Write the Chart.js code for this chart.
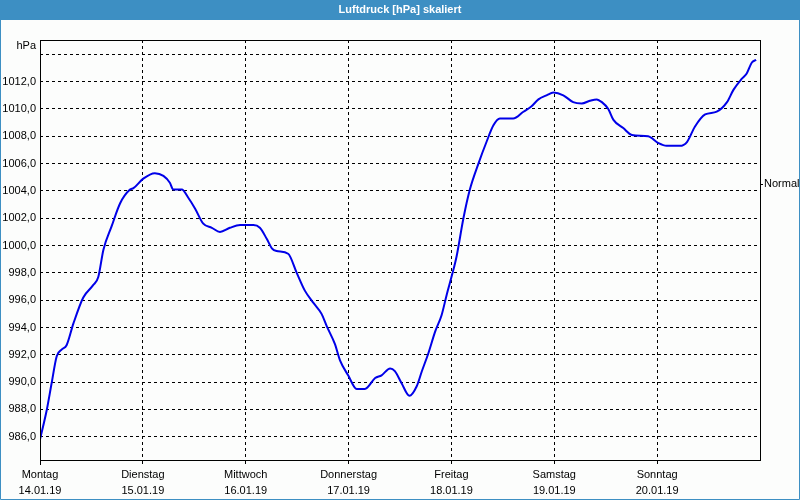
<!DOCTYPE html>
<html>
<head>
<meta charset="utf-8">
<script src="https://cdn.jsdelivr.net/npm/chart.js@4/dist/chart.umd.min.js"></script>
<style>
html,body{margin:0;padding:0;background:#fcfdfc;}
canvas{display:block;}
</style>
</head>
<body>
<canvas id="c" width="800" height="500"></canvas>
<script>
const chartTitle = 'Luftdruck [hPa] skaliert';
const unitLabel = 'hPa';
const days = ['Montag','Dienstag','Mittwoch','Donnerstag','Freitag','Samstag','Sonntag'];
const dates = ['14.01.19','15.01.19','16.01.19','17.01.19','18.01.19','19.01.19','20.01.19'];
const dayTickHours = [0,24,48,72,96,120,144];
const yTickValues = [986,988,990,992,994,996,998,1000,1002,1004,1006,1008,1010,1012,1014];
const normalLevel = 1004.5;
const normalLabel = 'Normal';

// hours since Monday 00:00
const hours = [0,1.6,2.7,3.9,5.1,6.2,7.8,10.1,12.4,13.6,14.8,16.7,18.7,21.0,21.8,24.1,26.8,28.8,30.3,31.1,33.1,34.6,36.2,38.1,40.1,42.0,44.3,46.7,49.8,51.3,52.9,54.1,55.2,57.9,59.9,61.8,63.8,65.7,66.9,68.8,70.0,71.9,73.9,75.8,78.2,79.7,81.7,82.8,84.4,86.2,87.9,89.1,90.6,92.2,93.7,94.9,96.1,97.2,98.8,100.3,102.3,104.2,105.8,107.3,110.4,112.8,114.7,116.3,118.2,119.8,122.1,124.4,126.4,128.3,129.9,131.1,132.6,133.8,136.1,138.1,141.9,144.3,146.2,149.3,151.0,152.8,155.2,157.9,160.3,161.8,163.7,164.9,166.1,167.1];
const pressure = [985.8,988.0,989.9,991.9,992.4,992.7,994.3,996.2,997.1,997.7,999.7,1001.4,1003.1,1004.1,1004.2,1004.9,1005.3,1005.1,1004.6,1004.1,1004.1,1003.5,1002.7,1001.6,1001.3,1001.0,1001.3,1001.5,1001.5,1001.3,1000.5,999.8,999.6,999.4,998.0,996.7,995.8,995.0,994.1,992.8,991.6,990.5,989.5,989.5,990.3,990.5,991.0,990.8,989.9,989.0,989.7,990.8,992.1,993.7,994.9,996.4,997.8,999.2,1002.0,1004.1,1006.0,1007.6,1008.8,1009.3,1009.3,1009.8,1010.2,1010.7,1011.0,1011.2,1011.0,1010.5,1010.4,1010.6,1010.7,1010.5,1010.0,1009.2,1008.6,1008.1,1008.0,1007.5,1007.3,1007.3,1007.6,1008.7,1009.6,1009.8,1010.5,1011.4,1012.2,1012.6,1013.4,1013.6];

const FONT = 'Liberation Sans, Arial, sans-serif';

const framePlugin = {
  id: 'frame',
  beforeDraw(chart) {
    const ctx = chart.ctx;
    ctx.save();
    ctx.fillStyle = '#fcfdfc';
    ctx.fillRect(0, 0, chart.width, chart.height);
    ctx.fillStyle = '#3d8fc3';
    ctx.fillRect(0, 0, chart.width, 20);
    ctx.fillStyle = '#ffffff';
    ctx.font = 'bold 11px ' + FONT;
    ctx.textAlign = 'center';
    ctx.textBaseline = 'middle';
    ctx.fillText(chartTitle, chart.width / 2, 10);
    ctx.restore();
  },
  afterDraw(chart) {
    const ctx = chart.ctx;
    const ca = chart.chartArea;
    ctx.save();
    ctx.strokeStyle = '#000000';
    ctx.lineWidth = 1;
    ctx.setLineDash([]);
    ctx.strokeRect(ca.left + 0.5, ca.top + 0.5, ca.right - ca.left, ca.bottom - ca.top);
    ctx.beginPath();
    ctx.moveTo(ca.left + 0.5, ca.bottom);
    ctx.lineTo(ca.left + 0.5, ca.bottom + 5);
    ctx.stroke();
    ctx.fillStyle = '#000000';
    ctx.font = '11px ' + FONT;
    ctx.textAlign = 'right';
    ctx.textBaseline = 'middle';
    ctx.fillText(unitLabel, ca.left - 4, 46);
    ctx.strokeStyle = '#3d8fc3';
    ctx.beginPath();
    ctx.moveTo(0.5, 20); ctx.lineTo(0.5, chart.height - 0.5);
    ctx.lineTo(chart.width - 0.5, chart.height - 0.5);
    ctx.lineTo(chart.width - 0.5, 20);
    ctx.stroke();
    ctx.restore();
  }
};

const yMin = 984.3, yMax = 1015.05;

new Chart(document.getElementById('c'), {
  type: 'line',
  data: {
    datasets: [{
      data: hours.map((h, i) => ({x: h, y: pressure[i]})),
      borderColor: '#0000e8',
      borderWidth: 2,
      pointRadius: 0,
      fill: false,
      cubicInterpolationMode: 'monotone'
    }]
  },
  options: {
    responsive: false,
    animation: false,
    events: [],
    layout: {padding: {top: 40, left: 0, right: 0, bottom: 0}},
    plugins: {legend: {display: false}, tooltip: {enabled: false}, title: {display: false}},
    scales: {
      x: {
        type: 'linear',
        min: 0, max: 168,
        afterBuildTicks: (axis) => { axis.ticks = dayTickHours.map(v => ({value: v})); },
        afterFit: (axis) => { axis.height = 40; },
        grid: {color: '#000000', lineWidth: 1, drawTicks: true, tickLength: 4, tickColor: '#000000'},
        border: {display: false, dash: [3, 3]},
        ticks: {
          color: '#000000',
          font: {family: FONT, size: 11, lineHeight: 1.45},
          padding: 3,
          maxRotation: 0,
          autoSkip: false,
          callback: (v) => { const i = dayTickHours.indexOf(v); return i >= 0 ? [days[i], dates[i]] : ''; }
        }
      },
      y: {
        type: 'linear',
        position: 'left',
        min: yMin, max: yMax,
        afterBuildTicks: (axis) => { axis.ticks = yTickValues.map(v => ({value: v})); },
        afterFit: (axis) => { axis.width = 40; },
        grid: {color: '#000000', lineWidth: 1, drawTicks: false},
        border: {display: false, dash: [3, 3]},
        ticks: {
          color: '#000000',
          font: {family: FONT, size: 11},
          padding: 4,
          autoSkip: false,
          callback: (v) => v === 1014 ? '' : v.toFixed(1).replace('.', ',')
        }
      },
      yNormal: {
        type: 'linear',
        position: 'right',
        min: yMin, max: yMax,
        afterBuildTicks: (axis) => { axis.ticks = [{value: normalLevel}]; },
        afterFit: (axis) => { axis.width = 40; },
        grid: {drawOnChartArea: false, drawTicks: true, tickLength: 3, tickColor: '#000000'},
        border: {display: false},
        ticks: {
          color: '#000000',
          font: {family: FONT, size: 11},
          padding: 1,
          autoSkip: false,
          callback: () => normalLabel
        }
      }
    }
  },
  plugins: [framePlugin]
});
</script>
</body>
</html>
